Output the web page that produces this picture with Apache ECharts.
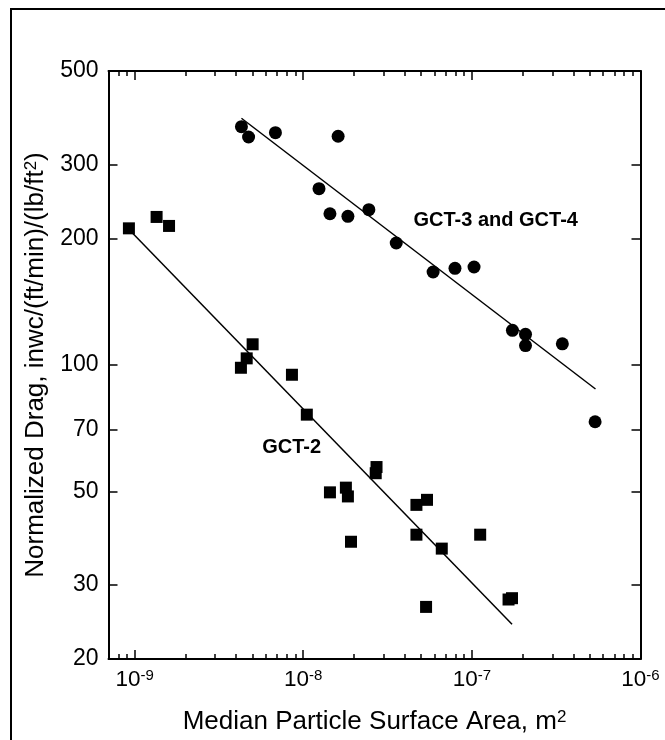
<!DOCTYPE html>
<html><head><meta charset="utf-8">
<script src="https://cdn.jsdelivr.net/npm/echarts@6/dist/echarts.min.js"></script>
<style>html,body{margin:0;padding:0;background:#fff}#c{width:665px;height:740px}</style>
</head><body><div id="c"></div>
<script>
// ---- data ----
const xMajorTicks = [1e-9, 1e-8, 1e-7, 1e-6];
const xMinorTicks = [8e-10, 9e-10,
  2e-9, 3e-9, 4e-9, 5e-9, 6e-9, 7e-9, 8e-9, 9e-9,
  2e-8, 3e-8, 4e-8, 5e-8, 6e-8, 7e-8, 8e-8, 9e-8,
  2e-7, 3e-7, 4e-7, 5e-7, 6e-7, 7e-7, 8e-7, 9e-7];
const yTicks = [20, 30, 50, 70, 100, 200, 300, 500];

// GCT-3 and GCT-4 (circles)
const gct34Area = [4.30e-9, 4.74e-9, 6.84e-9, 1.61e-8, 1.24e-8, 1.44e-8, 1.84e-8, 2.45e-8, 3.56e-8,
  5.89e-8, 7.94e-8, 1.03e-7, 1.74e-7, 2.08e-7, 2.08e-7, 3.44e-7, 5.38e-7];
const gct34Drag = [368.6, 348.4, 356.7, 349.8, 262.5, 228.9, 225.7, 234.0, 195.0,
  166.4, 169.8, 171.0, 120.9, 118.3, 111.2, 112.3, 73.3];

// GCT-2 (squares)
const gct2Area = [9.25e-10, 1.35e-9, 1.60e-9, 5.01e-9, 4.27e-9, 4.62e-9, 8.57e-9, 1.05e-8,
  2.72e-8, 2.69e-8, 1.44e-8, 1.79e-8, 1.84e-8, 1.92e-8, 4.69e-8, 5.42e-8, 4.69e-8,
  6.63e-8, 1.12e-7, 5.35e-8, 1.65e-7, 1.73e-7];
const gct2Drag = [211.3, 224.9, 214.1, 112.0, 98.5, 103.7, 94.8, 76.2,
  57.2, 55.3, 49.8, 51.1, 48.7, 38.0, 46.5, 47.8, 39.5,
  36.6, 39.5, 26.6, 27.7, 27.9];

// fitted lines (end points)
const fit34Area = [4.30e-9, 5.41e-7];
const fit34Drag = [386, 87.7];
const fit2Area = [9.45e-10, 1.73e-7];
const fit2Drag = [208.3, 24.2];

// annotations
const noteText = ['GCT-3 and GCT-4', 'GCT-2'];
const noteArea = [1.385e-7, 8.54e-9];
const noteDrag = [220, 63.5];

// ---- chart ----
const FONT = '"Liberation Sans", Arial, Helvetica, sans-serif';
const zip = (a, b) => a.map((v, i) => [v, b[i]]);
const chart = echarts.init(document.getElementById('c'), null, {renderer: 'canvas'});

const lineStyle = {color: '#000', width: 2};
const tickStyle = {color: '#000', width: 1.5};
const xRange = {type: 'log', logBase: 10, min: 7e-10, max: 1e-6};

function xAxisDef(pos, ticks, len, showLine, withLabel) {
  const ax = Object.assign({}, xRange, {
    position: pos,
    gridIndex: 0,
    axisLine: {show: showLine, onZero: false, lineStyle: lineStyle},
    axisTick: {show: true, inside: true, length: len, customValues: ticks, lineStyle: tickStyle},
    axisLabel: {show: false},
    splitLine: {show: false},
    minorTick: {show: false},
    minorSplitLine: {show: false}
  });
  if (withLabel) {
    ax.axisLabel = {
      show: true, customValues: ticks, margin: 9, color: '#000',
      formatter: v => '{b|10}{s|' + Math.round(Math.log10(v)) + '}',
      rich: {
        b: {fontSize: 22.5, fontFamily: FONT, color: '#000'},
        s: {fontSize: 15, fontFamily: FONT, color: '#000', verticalAlign: 'top'}
      }
    };
    ax.name = '{t|Median Particle Surface Area, m}{s|2}';
    ax.nameLocation = 'middle';
    ax.nameGap = 50;
    ax.nameTextStyle = {
      rich: {
        t: {fontSize: 26, fontFamily: FONT, color: '#000'},
        s: {fontSize: 17, fontFamily: FONT, color: '#000', verticalAlign: 'top'}
      }
    };
  }
  return ax;
}

function yAxisDef(pos, withLabel) {
  const ax = {
    type: 'log', logBase: 10, min: 20, max: 500, position: pos, gridIndex: 0,
    axisLine: {show: true, onZero: false, lineStyle: lineStyle},
    axisTick: {show: true, inside: true, length: 9, customValues: yTicks, lineStyle: tickStyle},
    axisLabel: {show: false},
    splitLine: {show: false},
    minorTick: {show: false},
    minorSplitLine: {show: false}
  };
  if (withLabel) {
    ax.axisLabel = {
      show: true, customValues: yTicks, margin: 10, color: '#000',
      fontSize: 23, fontFamily: FONT,
      formatter: v => String(Math.round(v))
    };
    ax.name = '{t|Normalized Drag, inwc/(ft/min)/(lb/ft}{s|2}{t|)}';
    ax.nameLocation = 'middle';
    ax.nameRotate = 90;
    ax.nameGap = 58;
    ax.nameTextStyle = {
      rich: {
        t: {fontSize: 26, fontFamily: FONT, color: '#000'},
        s: {fontSize: 17, fontFamily: FONT, color: '#000', verticalAlign: 'top'}
      }
    };
  }
  return ax;
}

const option = {
  backgroundColor: '#fff',
  animation: false,
  grid: {left: 108.5, top: 71, width: 532, height: 588, containLabel: false},
  xAxis: [
    xAxisDef('bottom', xMajorTicks, 9, true, true),
    xAxisDef('bottom', xMinorTicks, 5, false, false),
    xAxisDef('top', xMajorTicks, 9, true, false),
    xAxisDef('top', xMinorTicks, 5, false, false)
  ],
  yAxis: [yAxisDef('left', true), yAxisDef('right', false)],
  graphic: [
    {type: 'line', silent: true, shape: {x1: 10, y1: 9, x2: 665, y2: 9},
     style: {stroke: '#000', lineWidth: 2}},
    {type: 'line', silent: true, shape: {x1: 11, y1: 8, x2: 11, y2: 740},
     style: {stroke: '#000', lineWidth: 2}}
  ],
  series: [
    {
      type: 'line', xAxisIndex: 0, yAxisIndex: 0, data: zip(fit34Area, fit34Drag),
      showSymbol: false, symbol: 'none', lineStyle: {color: '#000', width: 1.5}, silent: true, z: 2
    },
    {
      type: 'line', xAxisIndex: 0, yAxisIndex: 0, data: zip(fit2Area, fit2Drag),
      showSymbol: false, symbol: 'none', lineStyle: {color: '#000', width: 1.5}, silent: true, z: 2
    },
    {
      type: 'scatter', xAxisIndex: 0, yAxisIndex: 0, data: zip(gct34Area, gct34Drag),
      symbol: 'circle', symbolSize: 13, itemStyle: {color: '#000', opacity: 1}, silent: true, z: 3
    },
    {
      type: 'scatter', xAxisIndex: 0, yAxisIndex: 0, data: zip(gct2Area, gct2Drag),
      symbol: 'rect', symbolSize: 12, itemStyle: {color: '#000', opacity: 1}, silent: true, z: 3
    },
    {
      type: 'scatter', xAxisIndex: 0, yAxisIndex: 0, symbolSize: 0, silent: true, z: 4,
      itemStyle: {color: '#000', opacity: 1},
      data: noteText.map((t, i) => ({name: t, value: [noteArea[i], noteDrag[i]]})),
      label: {
        show: true, position: 'inside', formatter: '{b}', color: '#000', opacity: 1,
        textBorderWidth: 0, fontSize: 20, fontWeight: 'bold', fontFamily: FONT
      }
    }
  ]
};
chart.setOption(option);
</script>
</body></html>
